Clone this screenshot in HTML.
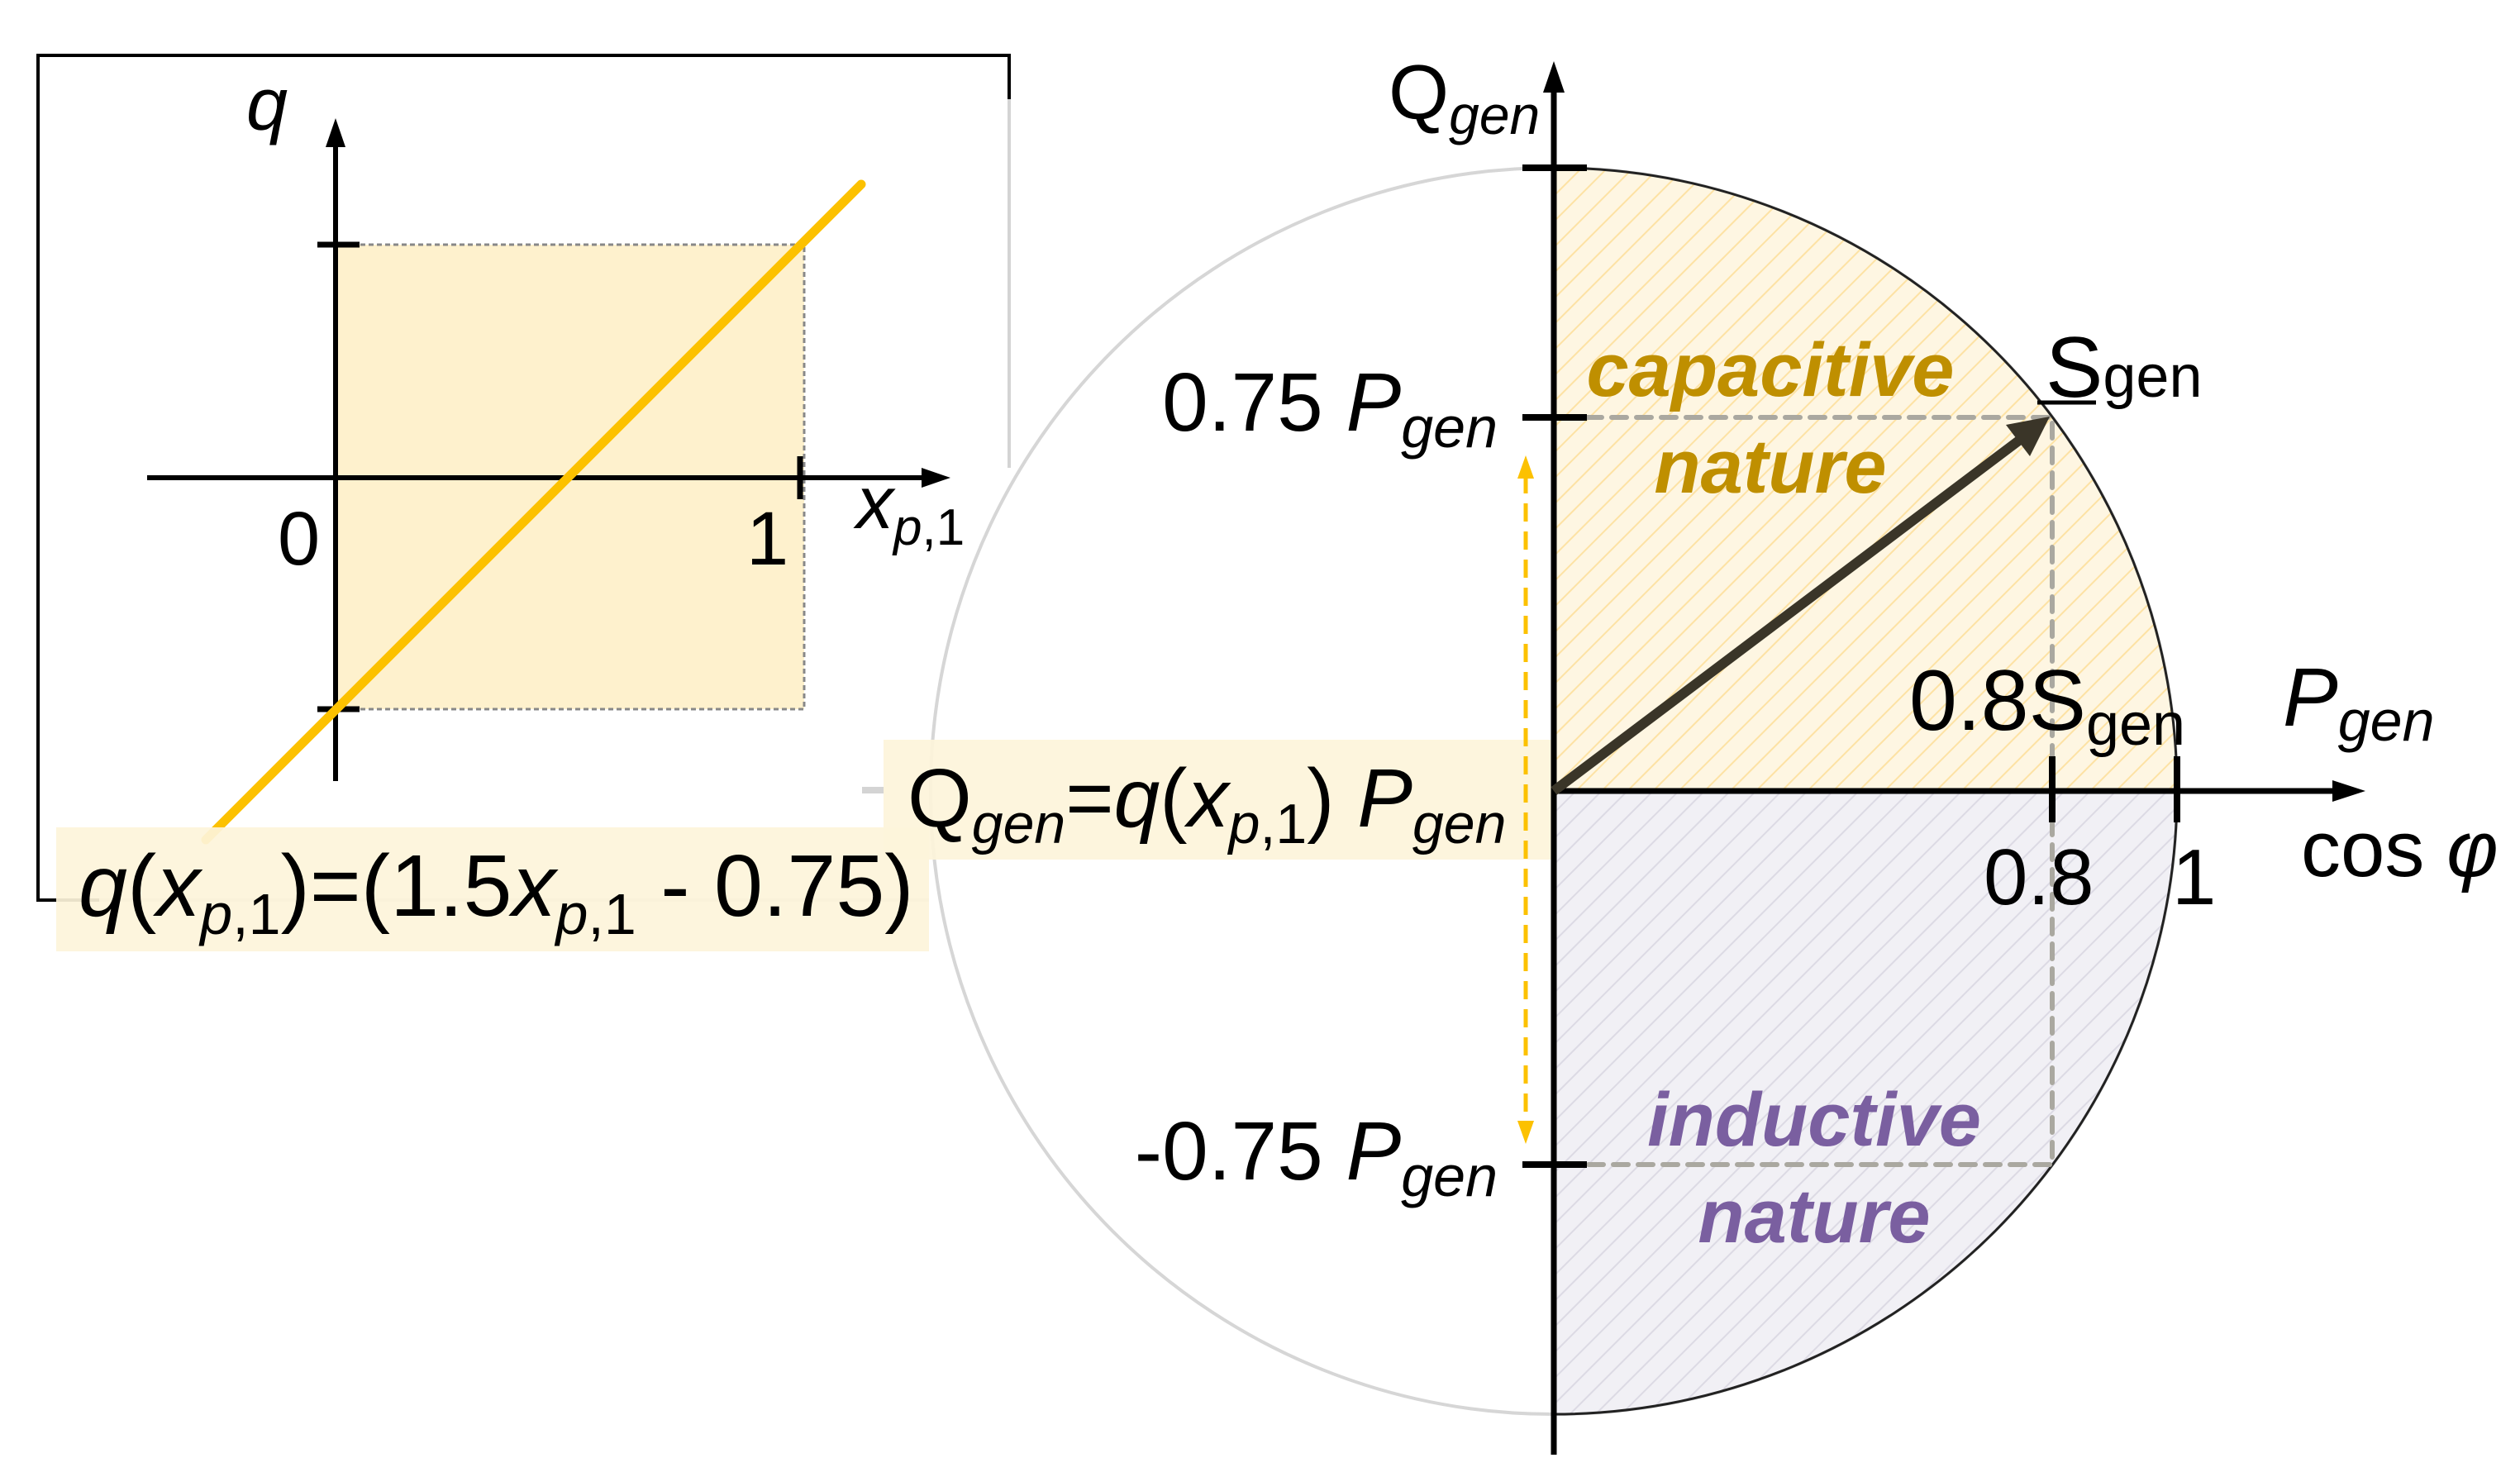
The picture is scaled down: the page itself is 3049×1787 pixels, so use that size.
<!DOCTYPE html>
<html><head><meta charset="utf-8"><style>
html,body{margin:0;padding:0;background:#fff;}
svg{display:block;font-family:"Liberation Sans",sans-serif;}
</style></head><body>
<svg width="3049" height="1787" viewBox="0 0 3049 1787" xmlns="http://www.w3.org/2000/svg">
<defs>
<pattern id="hy" width="22" height="22" patternUnits="userSpaceOnUse" patternTransform="rotate(45)">
<rect width="22" height="22" fill="#fef6e2"/><line x1="0" y1="0" x2="0" y2="22" stroke="#fde2a4" stroke-width="4"/></pattern>
<pattern id="hp" width="22" height="22" patternUnits="userSpaceOnUse" patternTransform="rotate(45)">
<rect width="22" height="22" fill="#f1f0f5"/><line x1="0" y1="0" x2="0" y2="22" stroke="#dcdae4" stroke-width="4"/></pattern>
</defs>

<!-- left box -->
<polyline points="1221,120 1221,67 46,67 46,1089 120,1089" fill="none" stroke="#000" stroke-width="4"/>
<line x1="1221" y1="120" x2="1221" y2="566" stroke="#d4d4d4" stroke-width="4"/>
<line x1="120" y1="1089" x2="1124" y2="1089" stroke="#d4d4d4" stroke-width="4"/>
<rect x="406" y="296" width="567" height="562" fill="#fef1cd"/>
<polyline points="406,296 973,296 973,858 406,858" fill="none" stroke="#888" stroke-width="3" stroke-dasharray="6,4"/>
<line x1="406" y1="945" x2="406" y2="175" stroke="#000" stroke-width="6"/>
<path d="M406,143 L394,178 L418,178 z" fill="#000"/>
<line x1="178" y1="578" x2="1120" y2="578" stroke="#000" stroke-width="6"/>
<path d="M1150,578 L1115,566 L1115,590 z" fill="#000"/>
<line x1="384" y1="296" x2="435" y2="296" stroke="#000" stroke-width="7"/>
<line x1="384" y1="858" x2="435" y2="858" stroke="#000" stroke-width="7"/>
<line x1="968" y1="552" x2="968" y2="604" stroke="#000" stroke-width="7"/>
<line x1="249" y1="1016" x2="1042" y2="223" stroke="#fcc100" stroke-width="11" stroke-linecap="round"/>
<text x="298" y="157" font-size="90" font-style="italic">q</text>
<text x="336" y="683" font-size="92">0</text>
<text x="903" y="683" font-size="92">1</text>
<text x="1036" y="639" font-size="90" font-style="italic">x<tspan font-size="62" dy="20">p</tspan><tspan font-size="62" font-style="normal">,1</tspan></text>

<!-- circle -->
<line x1="1043" y1="956" x2="1070" y2="956" stroke="#d4d4d4" stroke-width="8"/>
<circle cx="1880" cy="957" r="754" fill="none" stroke="#d6d6d6" stroke-width="4"/>
<path d="M1880,957 L1880,203 A754,754 0 0 1 2634,957 z" fill="url(#hy)"/>
<path d="M1880,957 L2634,957 A754,754 0 0 1 1880,1711 z" fill="url(#hp)"/>
<path d="M1880,203 A754,754 0 0 1 1880,1711" fill="none" stroke="#222" stroke-width="3"/>

<!-- dashed -->
<polyline points="1920,505 2483,505 2483,1409 1920,1409" fill="none" stroke="#aaa8a0" stroke-width="6" stroke-dasharray="18,12" stroke-linecap="round"/>

<!-- formula boxes -->
<rect x="68" y="1001" width="1056" height="150" fill="#fdf4da" opacity="0.92"/>
<rect x="1069" y="895" width="808" height="145" fill="#fdf4da" opacity="0.92"/>

<!-- axes -->
<line x1="1880" y1="1760" x2="1880" y2="112" stroke="#000" stroke-width="7"/>
<path d="M1880,74 L1867,112 L1893,112 z" fill="#000"/>
<line x1="1880" y1="957" x2="2825" y2="957" stroke="#000" stroke-width="7"/>
<path d="M2862,957 L2822,944 L2822,970 z" fill="#000"/>
<line x1="1842" y1="203" x2="1920" y2="203" stroke="#000" stroke-width="8"/>
<line x1="1842" y1="505" x2="1920" y2="505" stroke="#000" stroke-width="8"/>
<line x1="1842" y1="1409" x2="1920" y2="1409" stroke="#000" stroke-width="8"/>
<line x1="2483" y1="915" x2="2483" y2="995" stroke="#000" stroke-width="8"/>
<line x1="2634" y1="915" x2="2634" y2="995" stroke="#000" stroke-width="8"/>

<!-- S vector -->
<line x1="1880" y1="957" x2="2452" y2="526" stroke="#3a3528" stroke-width="12"/>
<path d="M2480,504 L2427,514 L2456,552 z" fill="#3a3528"/>

<!-- yellow double arrow -->
<line x1="1846" y1="575" x2="1846" y2="1360" stroke="#fcc100" stroke-width="5" stroke-dasharray="22,12"/>
<path d="M1846,551 L1836,579 L1856,579 z" fill="#fcc100"/>
<path d="M1846,1384 L1836,1356 L1856,1356 z" fill="#fcc100"/>

<!-- labels -->
<text x="95" y="1108" font-size="106"><tspan font-style="italic">q</tspan>(<tspan font-style="italic">x</tspan><tspan font-size="70" font-style="italic" dy="22">p</tspan><tspan font-size="70">,1</tspan><tspan dy="-22">)=(1.5</tspan><tspan font-style="italic">x</tspan><tspan font-size="70" font-style="italic" dy="22">p</tspan><tspan font-size="70">,1</tspan><tspan dy="-22"> - 0.75)</tspan></text>
<text x="1098" y="1000" font-size="100">Q<tspan font-size="68" font-style="italic" dy="20">gen</tspan><tspan dy="-20">=</tspan><tspan font-style="italic">q</tspan>(<tspan font-style="italic">x</tspan><tspan font-size="68" font-style="italic" dy="20">p</tspan><tspan font-size="68">,1</tspan><tspan dy="-20">) </tspan><tspan font-style="italic">P</tspan><tspan font-size="68" font-style="italic" dy="20">gen</tspan></text>
<text x="1680" y="144" font-size="94">Q<tspan font-size="66" font-style="italic" dy="18">gen</tspan></text>
<text x="1812" y="521" font-size="100" text-anchor="end">0.75 <tspan font-style="italic">P</tspan><tspan font-size="70" font-style="italic" dy="20">gen</tspan></text>
<text x="1812" y="1427" font-size="100" text-anchor="end">-0.75 <tspan font-style="italic">P</tspan><tspan font-size="70" font-style="italic" dy="20">gen</tspan></text>
<text x="2142" y="479" font-size="92" font-weight="bold" font-style="italic" fill="#bf8f00" text-anchor="middle">capacitive</text>
<text x="2142" y="596" font-size="92" font-weight="bold" font-style="italic" fill="#bf8f00" text-anchor="middle">nature</text>
<text x="2195" y="1386" font-size="92" font-weight="bold" font-style="italic" fill="#7a5fa0" text-anchor="middle">inductive</text>
<text x="2195" y="1503" font-size="92" font-weight="bold" font-style="italic" fill="#7a5fa0" text-anchor="middle">nature</text>
<text x="2475" y="480" font-size="104">S<tspan font-size="72">gen</tspan></text>
<line x1="2465" y1="487" x2="2536" y2="487" stroke="#000" stroke-width="5"/>
<text x="2310" y="883" font-size="104">0.8S<tspan font-size="72" dy="18">gen</tspan></text>
<text x="2762" y="878" font-size="100" font-style="italic">P<tspan font-size="70" dy="18">gen</tspan></text>
<text x="2784" y="1060" font-size="96">cos <tspan font-style="italic">φ</tspan></text>
<text x="2400" y="1094" font-size="96">0.8</text>
<text x="2628" y="1094" font-size="96">1</text>
</svg>
</body></html>
